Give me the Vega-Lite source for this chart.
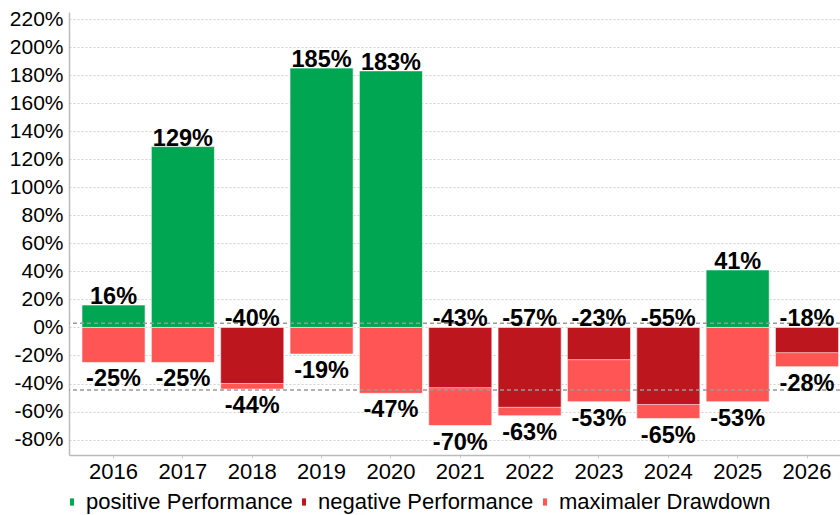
{
  "$schema": "https://vega.github.io/schema/vega-lite/v6.json",
  "autosize": "none",
  "width": 771,
  "height": 443,
  "padding": {"left": 69, "top": 12, "right": 0, "bottom": 60},
  "background": "white",
  "config": {
    "view": {"stroke": null},
    "font": "Liberation Sans",
    "axisY": {
      "title": null,
      "labelFontSize": 21,
      "labelColor": "#000",
      "labelPadding": 6,
      "labelOverlap": false,
      "ticks": false,
      "domainColor": "#bbbbbb",
      "domainWidth": 1.5,
      "gridColor": "#d0d0d0",
      "gridDash": [2, 2],
      "gridWidth": 1
    }
  },
  "datasets": {
    "bars": [
      {"year": "2016", "perf": 16, "dd": -25},
      {"year": "2017", "perf": 129, "dd": -25},
      {"year": "2018", "perf": -40, "dd": -44},
      {"year": "2019", "perf": 185, "dd": -19},
      {"year": "2020", "perf": 183, "dd": -47},
      {"year": "2021", "perf": -43, "dd": -70},
      {"year": "2022", "perf": -57, "dd": -63},
      {"year": "2023", "perf": -23, "dd": -53},
      {"year": "2024", "perf": -55, "dd": -65},
      {"year": "2025", "perf": 41, "dd": -53},
      {"year": "2026", "perf": -18, "dd": -28}
    ],
    "avg": [
      {"name": "Durchschnitt Performance", "v": 3},
      {"name": "Durchschnitt Drawdown", "v": -44.7}
    ]
  },
  "data": {"name": "bars"},
  "transform": [
    {"calculate": "datum.perf >= 0 ? 'positive Performance' : 'negative Performance'", "as": "kind"},
    {"calculate": "'maximaler Drawdown'", "as": "ddkind"},
    {"calculate": "toString(datum.perf) + '%'", "as": "perfLabel"},
    {"calculate": "toString(datum.dd) + '%'", "as": "ddLabel"},
    {"calculate": "max(datum.perf, 0)", "as": "perfPos"}
  ],
  "encoding": {
    "x": {
      "field": "year",
      "type": "ordinal",
      "scale": {"paddingInner": 0.09, "paddingOuter": 0.104, "align": 0.9},
      "axis": {
        "title": null,
        "labelAngle": 0,
        "labelFontSize": 22,
        "labelColor": "#000",
        "labelPadding": 3,
        "labelOverlap": false,
        "domainColor": "#bbbbbb",
        "domainWidth": 1.5,
        "tickColor": "#cccccc",
        "tickSize": 3,
        "grid": false
      }
    },
    "y": {
      "field": "dd",
      "type": "quantitative",
      "scale": {"domain": [-91, 225], "nice": false, "zero": false},
      "axis": {
        "values": [-80, -60, -40, -20, 0, 20, 40, 60, 80, 100, 120, 140, 160, 180, 200, 220],
        "labelExpr": "toString(datum.value) + '%'"
      }
    }
  },
  "layer": [
    {
      "mark": {"type": "bar", "stroke": "#ffffff", "strokeWidth": 1, "strokeOpacity": 0.6},
      "encoding": {
        "y2": {"datum": 0},
        "color": {
          "field": "ddkind",
          "type": "nominal",
          "scale": {
            "domain": ["positive Performance", "negative Performance", "maximaler Drawdown"],
            "range": ["#00A651", "#BE161E", "#FF5555"]
          },
          "legend": {
            "title": null,
            "orient": "none",
            "direction": "horizontal",
            "legendX": -8,
            "legendY": 479,
            "labelFontSize": 22,
            "labelColor": "#000",
            "symbolType": "M-0.25,-0.45L0.25,-0.45L0.25,0.45L-0.25,0.45Z",
            "symbolSize": 256,
            "symbolStrokeWidth": 0,
            "labelOffset": 3,
            "columnPadding": 0,
            "labelLimit": 400
          }
        }
      }
    },
    {
      "mark": {"type": "bar", "stroke": "#ffffff", "strokeWidth": 1, "strokeOpacity": 0.6},
      "encoding": {
        "y": {"field": "perf", "type": "quantitative", "axis": {"values": [-80, -60, -40, -20, 0, 20, 40, 60, 80, 100, 120, 140, 160, 180, 200, 220], "labelExpr": "toString(datum.value) + '%'"}},
        "y2": {"datum": 0},
        "color": {"field": "kind", "type": "nominal"}
      }
    },
    {
      "data": {"name": "avg"},
      "mark": {"type": "rule", "color": "#999999", "strokeDash": [4, 3], "strokeWidth": 1.5},
      "encoding": {
        "y": {"field": "v", "type": "quantitative", "axis": {"values": [-80, -60, -40, -20, 0, 20, 40, 60, 80, 100, 120, 140, 160, 180, 200, 220], "labelExpr": "toString(datum.value) + '%'"}},
        "x": null
      }
    },
    {
      "mark": {"type": "text", "fontSize": 23.5, "fontWeight": "bold", "baseline": "alphabetic", "dy": -1, "color": "#000"},
      "encoding": {
        "y": {"field": "perfPos", "type": "quantitative", "axis": {"values": [-80, -60, -40, -20, 0, 20, 40, 60, 80, 100, 120, 140, 160, 180, 200, 220], "labelExpr": "toString(datum.value) + '%'"}},
        "text": {"field": "perfLabel"}
      }
    },
    {
      "mark": {"type": "text", "fontSize": 23.5, "fontWeight": "bold", "baseline": "top", "dy": 5, "color": "#000"},
      "encoding": {
        "text": {"field": "ddLabel"}
      }
    }
  ]
}
